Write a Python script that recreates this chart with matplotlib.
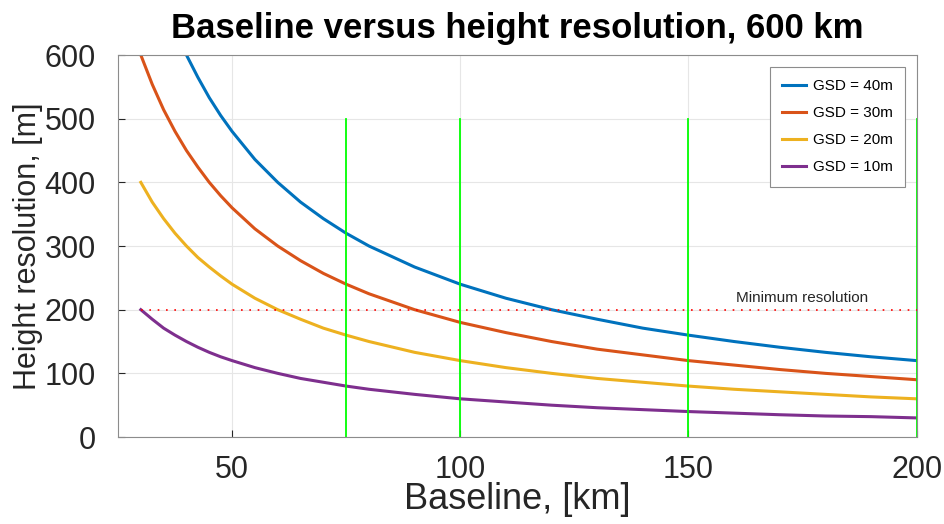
import numpy as np
import matplotlib
matplotlib.use('Agg')
import matplotlib.pyplot as plt

plt.rcParams['font.family'] = ['Liberation Sans', 'DejaVu Sans']

# values (baseline in km, height resolution in m)
b_40 = [40, 42.5, 45, 47.5, 50, 55, 60, 65, 70, 75, 80, 90, 100, 110, 120, 130, 140, 150, 160, 170, 180, 190, 200]
h_40 = [600, 565, 533, 505, 480, 436, 400, 369, 343, 320, 300, 267, 240, 218, 200, 185, 171, 160, 150, 141, 133, 126, 120]

b_low = [30, 32.5, 35, 37.5, 40, 42.5, 45, 47.5, 50, 55, 60, 65, 70, 75, 80, 90, 100, 110, 120, 130, 140, 150, 160, 170, 180, 190, 200]
h_30 = [600, 554, 514, 480, 450, 424, 400, 379, 360, 327, 300, 277, 257, 240, 225, 200, 180, 164, 150, 138, 129, 120, 113, 106, 100, 95, 90]
h_20 = [400, 369, 343, 320, 300, 282, 267, 253, 240, 218, 200, 185, 171, 160, 150, 133, 120, 109, 100, 92, 86, 80, 75, 71, 67, 63, 60]
h_10 = [200, 185, 171, 160, 150, 141, 133, 126, 120, 109, 100, 92, 86, 80, 75, 67, 60, 55, 50, 46, 43, 40, 37.5, 35, 33, 32, 30]

green_x = [75, 100, 150, 200]
green_top = 500
min_res = 200

fig = plt.figure(figsize=(9.44, 5.24), dpi=100)
ax = fig.add_axes([0.125, 0.166, 0.846, 0.729])

ax.plot(b_40, h_40, color=(0, 0.447, 0.741), lw=2.2, label='GSD = 40m')
ax.plot(b_low, h_30, color=(0.85, 0.325, 0.098), lw=2.2, label='GSD = 30m')
ax.plot(b_low, h_20, color=(0.929, 0.694, 0.125), lw=2.2, label='GSD = 20m')
ax.plot(b_low, h_10, color=(0.494, 0.184, 0.556), lw=2.2, label='GSD = 10m')

for gx in green_x:
    ax.plot([gx, gx], [0, green_top], color=(0, 1, 0), lw=1.3)
ax.plot([30, 200], [min_res, min_res], color='red', ls=(0, (1, 4)), lw=1.2)
ax.text(175, 207, 'Minimum resolution', fontsize=11, ha='center', va='bottom', color='#262626')

ax.set_xlim(25, 200)
ax.set_ylim(0, 600)
ax.set_xticks([50, 100, 150, 200])
ax.set_yticks([0, 100, 200, 300, 400, 500, 600])
ax.grid(True, color='#e6e6e6', lw=0.8)
ax.set_axisbelow(True)
for s in ax.spines.values():
    s.set_color('#8c8c8c')
ax.tick_params(labelsize=22, colors='#262626', direction='in', length=5)
ax.tick_params(axis='y', pad=16)
ax.tick_params(axis='x', pad=13)
ax.set_xlabel('Baseline, [km]', fontsize=26, color='#262626', labelpad=-2)
ax.set_ylabel('Height resolution, [m]', fontsize=22, color='#262626', labelpad=1)
ax.set_title('Baseline versus height resolution, 600 km', fontsize=25, fontweight='bold', pad=12)

leg = ax.legend(loc='upper right', bbox_to_anchor=(0.985, 0.968), fontsize=11, fancybox=False,
                framealpha=1, edgecolor='#8c8c8c', handlelength=1.6, labelspacing=0.85,
                borderpad=0.8, handletextpad=0.4, borderaxespad=0)
leg.get_frame().set_linewidth(0.8)

fig.savefig('out.png', dpi=100)
